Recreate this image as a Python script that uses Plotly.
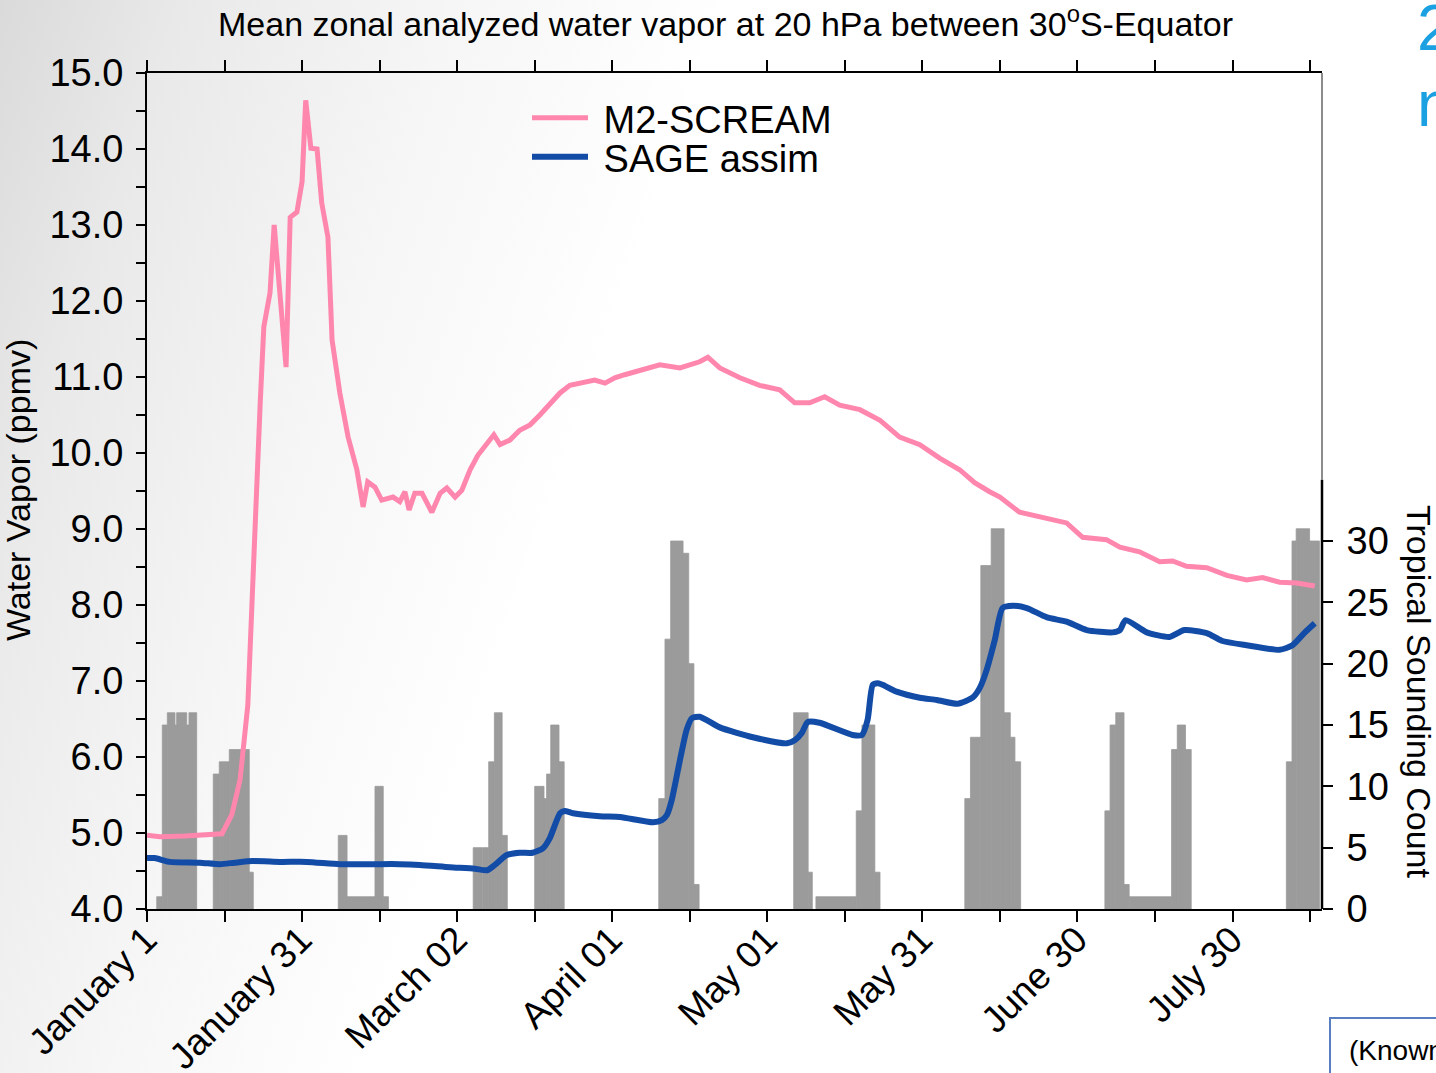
import base64
import plotly.graph_objects as go

# ---------------- data ----------------
# days since 2022-01-01
pink_day = [0, 2.5, 7.3, 11.2, 14.5, 16.4, 18.0, 19.5, 20.9, 21.9, 22.6, 23.8, 24.6, 26.9, 27.7, 29.0,
            30.0, 30.7, 31.7, 32.9, 33.8, 35.0, 35.8, 37.3, 38.9, 40.6, 41.8, 42.7, 44.1, 45.4, 47.6,
            48.9, 49.9, 50.7, 51.8, 53.2, 55.1, 56.7, 58.0, 59.6, 60.9, 62.5, 64.0, 65.6, 67.1, 68.3,
            70.2, 72.1, 74.1, 76.0, 77.9, 79.9, 81.8, 83.7, 86.6, 88.6, 90.5, 92.4, 95.3, 99.2, 103.1,
            106.9, 108.5, 110.8, 114.7, 118.5, 122.4, 125.3, 128.2, 131.1, 134.0, 137.9, 141.8, 145.6,
            149.5, 153.4, 157.2, 160.1, 163.0, 165.0, 168.8, 171.3, 174.6, 177.9, 181.0, 185.6, 188.2,
            192.0, 195.9, 198.4, 201.1, 205.0, 208.9, 212.7, 215.8, 219.1, 222.4, 225.9]
pink_ppmv = [4.97, 4.95, 4.96, 4.97, 4.99, 5.24, 5.70, 6.68, 9.12, 10.66, 11.66, 12.11, 13.0, 11.13, 13.1, 13.17,
             13.57, 14.64, 14.01, 14.0, 13.29, 12.84, 11.49, 10.79, 10.21, 9.78, 9.29, 9.62, 9.55, 9.38, 9.42,
             9.36, 9.49, 9.25, 9.47, 9.47, 9.22, 9.47, 9.54, 9.42, 9.51, 9.78, 9.97, 10.11, 10.24, 10.11,
             10.17, 10.30, 10.37, 10.50, 10.63, 10.79, 10.89, 10.92, 10.96, 10.92, 10.99, 11.03, 11.09, 11.16, 11.12,
             11.20, 11.26, 11.12, 10.99, 10.89, 10.83, 10.66, 10.66, 10.74, 10.63, 10.57, 10.43, 10.21,
             10.11, 9.93, 9.78, 9.61, 9.49, 9.42, 9.22, 9.18, 9.13, 9.08, 8.89, 8.86, 8.76,
             8.70, 8.57, 8.58, 8.51, 8.49, 8.39, 8.33, 8.36, 8.30, 8.29, 8.25]

blue_day = [0, 1.5, 4.4, 10.2, 14.1, 17.0, 20.5, 25.7, 30.9, 37.3, 43.7, 48.9, 52.8, 58.6, 63.4, 65.8,
            67.3, 69.6, 72.1, 74.6, 76.6, 77.9, 79.9, 80.8, 82.4, 87.6, 91.5, 97.9, 99.6, 100.6, 101.5,
            103.1, 104.4, 105.4, 106.9, 110.8, 117.2, 123.8, 125.3, 126.7, 127.8, 130.1, 136.5, 138.3,
            139.4, 140.4, 141.4, 142.3, 145.0, 149.5, 152.8, 156.8, 159.7, 161.1, 162.4, 164.0, 165.5,
            167.5, 170.2, 174.0, 177.9, 181.8, 186.8, 188.2, 189.3, 193.4, 197.8, 200.7, 205.0, 207.9,
            212.7, 219.1, 221.6, 224.0, 225.9]
blue_ppmv = [4.67, 4.67, 4.62, 4.61, 4.59, 4.61, 4.63, 4.62, 4.62, 4.59, 4.59, 4.59, 4.58, 4.55, 4.53, 4.51,
             4.58, 4.71, 4.74, 4.74, 4.80, 4.93, 5.26, 5.29, 5.26, 5.22, 5.21, 5.14, 5.17, 5.24, 5.43,
             5.96, 6.36, 6.51, 6.53, 6.39, 6.26, 6.18, 6.22, 6.32, 6.46, 6.45, 6.29, 6.29,
             6.49, 6.95, 6.97, 6.95, 6.86, 6.78, 6.75, 6.70, 6.78, 6.91, 7.14, 7.54, 7.96,
             7.99, 7.96, 7.84, 7.78, 7.67, 7.64, 7.67, 7.80, 7.64, 7.58, 7.67, 7.63, 7.53,
             7.47, 7.41, 7.47, 7.64, 7.76]

# sounding-count histogram bins (start day, end day, count)
bin_start = [1.88, 2.96, 3.93, 5.41, 5.74, 7.68, 8.12,
             12.82, 13.98, 15.92, 19.78,
             37.0, 38.7, 44.1, 45.7,
             63.1, 64.9, 66.1, 67.2, 68.7,
             75.0, 76.8, 77.3, 78.1, 79.7,
             99.0, 100.2, 101.3, 103.7, 104.8, 105.8,
             125.1, 127.9, 129.4, 137.2, 138.3, 140.8,
             158.2, 159.3, 161.3, 163.3, 165.8, 167.0, 167.9,
             185.3, 186.3, 187.4, 189.0, 190.0, 198.2, 199.3, 200.9,
             220.4, 221.5, 222.3, 224.9]
bin_end = [2.96, 3.93, 5.41, 5.74, 7.68, 8.12, 9.61,
           13.98, 15.92, 19.78, 20.56,
           38.7, 44.1, 45.7, 46.7,
           64.8, 66.1, 67.2, 68.7, 69.7,
           76.8, 77.3, 78.1, 79.7, 80.7,
           100.2, 101.3, 103.7, 104.8, 105.8, 106.8,
           127.9, 128.7, 137.2, 138.3, 140.8, 141.8,
           159.3, 161.3, 163.3, 165.8, 167.0, 167.9, 169.0,
           186.3, 187.4, 189.0, 190.0, 198.2, 199.3, 200.9, 202.0,
           221.5, 222.3, 224.9, 226.8]
bin_count = [1, 15, 16, 15, 16, 15, 16,
             11, 12, 13, 3,
             6, 1, 10, 1,
             5, 5, 12, 16, 6,
             10, 9, 11, 15, 12,
             9, 22, 30, 29, 20, 2,
             16, 3, 1, 8, 15, 3,
             9, 14, 28, 31, 16, 14, 12,
             8, 15, 16, 2, 1, 13, 15, 13,
             12, 30, 31, 30]

x_tick_days = [0, 15, 30, 45, 60, 75, 90, 105, 120, 135, 150, 165, 180, 195, 210, 225]
x_tick_labels = ["January 1", "", "January 31", "", "March 02", "", "April 01", "", "May 01", "",
                 "May 31", "", "June 30", "", "July 30", ""]
wv_ticks = [4, 5, 6, 7, 8, 9, 10, 11, 12, 13, 14, 15]
count_ticks = [0, 5, 10, 15, 20, 25, 30]

# ---------------- geometry ----------------
W, H = 1436, 1073
L, R, T, B = 147, 1322, 73, 909
PW, PH = R - L, B - T
X_MAX = 227.3
COUNT_TOP = PH / 12.267   # counts axis spans the full plot height
FONT = "Liberation Sans, Arial, Helvetica, sans-serif"


def px(xp):
    return (xp - L) / PW


def py(yp):
    return (B - yp) / PH


bar_x = [(s + e) / 2 for s, e in zip(bin_start, bin_end)]
bar_w = [e - s for s, e in zip(bin_start, bin_end)]

fig = go.Figure()
fig.add_trace(go.Bar(x=bar_x, y=bin_count, width=bar_w,
                     marker=dict(color="#9b9b9b", line=dict(width=0.8, color="#9b9b9b")),
                     xaxis="x", yaxis="y", showlegend=False, hoverinfo="skip"))
fig.add_trace(go.Scatter(x=pink_day, y=pink_ppmv, mode="lines", name="\u00a0M2-SCREAM",
                         line=dict(color="#ff86ad", width=5), xaxis="x", yaxis="y2", legend="legend"))
fig.add_trace(go.Scatter(x=blue_day, y=blue_ppmv, mode="lines", name="\u00a0SAGE assim",
                         line=dict(color="#124ca6", width=6, shape="spline", smoothing=0.6),
                         xaxis="x", yaxis="y2", legend="legend2"))

# background gradient (slide)
svg = ('<svg xmlns="http://www.w3.org/2000/svg" width="1436" height="1073">'
       '<defs><linearGradient id="g" x1="0" y1="0" x2="1" y2="0.25">'
       '<stop offset="0" stop-color="#dadada"/><stop offset="0.12" stop-color="#e9e9e9"/>'
       '<stop offset="0.3" stop-color="#f6f6f6"/><stop offset="0.48" stop-color="#ffffff"/>'
       '</linearGradient></defs><rect width="1436" height="1073" fill="url(#g)"/></svg>')
bg_src = "data:image/svg+xml;base64," + base64.b64encode(svg.encode()).decode()

tickfont = dict(family=FONT, size=38, color="black")
xtickfont = dict(family=FONT, size=37, color="black")
legfont = dict(family=FONT, size=38, color="black")

fig.update_layout(
    width=W, height=H,
    margin=dict(l=L, r=W - R, t=T, b=H - B, pad=0, autoexpand=False),
    paper_bgcolor="white",
    plot_bgcolor="rgba(0,0,0,0)",
    font=dict(family=FONT, color="black"),
    images=[dict(source=bg_src, xref="paper", yref="paper", x=px(0), y=py(0),
                 sizex=W / PW, sizey=H / PH, xanchor="left", yanchor="top",
                 sizing="stretch", layer="below")],
    xaxis=dict(range=[0, X_MAX], tickmode="array", tickvals=x_tick_days, ticktext=x_tick_labels,
               ticks="outside", ticklen=11, tickwidth=2, tickcolor="black", automargin=False,
               ticklabelstandoff=-19, ticklabelshift=-1,
               showline=True, linecolor="black", linewidth=2, mirror="allticks",
               tickangle=-45, tickfont=xtickfont, showgrid=False, zeroline=False),
    yaxis=dict(side="right", range=[0, COUNT_TOP], tickmode="array", tickvals=count_ticks,
               ticks="outside", ticklen=10, tickwidth=2, tickcolor="black", ticklabelstandoff=6,
               showline=False, showgrid=False, zeroline=False, tickfont=tickfont, automargin=False),
    yaxis2=dict(overlaying="y", side="left", range=[4, 15], tickmode="array", tickvals=wv_ticks,
                ticktext=["%.1f" % v for v in wv_ticks], automargin=False,
                ticks="outside", ticklen=9, tickwidth=2, tickcolor="black", ticklabelstandoff=5,
                minor=dict(dtick=0.5, tick0=4, ticks="outside", ticklen=9, tickwidth=2, tickcolor="black"),
                showline=True, linecolor="black", linewidth=2,
                showgrid=False, zeroline=False, tickfont=tickfont),
    legend=dict(x=px(527), y=py(118), xanchor="left", yanchor="middle", bgcolor="rgba(0,0,0,0)",
                font=legfont, itemwidth=56),
    legend2=dict(x=px(527), y=py(157), xanchor="left", yanchor="middle", bgcolor="rgba(0,0,0,0)",
                 font=legfont, itemwidth=56),
    shapes=[
        dict(type="line", xref="paper", yref="y", x0=1, x1=1, y0=0, y1=35,
             line=dict(color="black", width=2.5)),
        dict(type="line", xref="paper", yref="y", x0=1, x1=1, y0=35, y1=COUNT_TOP,
             line=dict(color="#666666", width=1.5)),
        dict(type="rect", xref="paper", yref="paper", x0=px(1330), x1=px(1460), y0=py(1090), y1=py(1018),
             line=dict(color="#5a7fc0", width=2), fillcolor="white"),
    ],
    annotations=[
        dict(text="Mean zonal analyzed water vapor at 20 hPa between 30<sup>o</sup>S-Equator",
             xref="paper", yref="paper", x=px(725), y=py(21), showarrow=False,
             xanchor="center", yanchor="middle", font=dict(family=FONT, size=34, color="black")),
        dict(text="Water Vapor (ppmv)", xref="paper", yref="paper", x=px(18), y=py(490),
             showarrow=False, textangle=-90, xanchor="center", yanchor="middle",
             font=dict(family=FONT, size=34, color="black")),
        dict(text="Tropical Sounding Count", xref="paper", yref="paper", x=px(1419), y=py(692),
             showarrow=False, textangle=90, xanchor="center", yanchor="middle",
             font=dict(family=FONT, size=34, color="black")),
        dict(text="2", xref="paper", yref="paper", x=px(1415), y=py(28), showarrow=False,
             xanchor="left", yanchor="middle", font=dict(family=FONT, size=64, color="#1ba1e2")),
        dict(text="n", xref="paper", yref="paper", x=px(1415), y=py(104), showarrow=False,
             xanchor="left", yanchor="middle", font=dict(family=FONT, size=64, color="#1ba1e2")),
        dict(text="(Known", xref="paper", yref="paper", x=px(1347), y=py(1050), showarrow=False,
             xanchor="left", yanchor="middle", font=dict(family=FONT, size=28, color="black")),
    ],
)

fig.write_html("out.html", config={"displayModeBar": False},
               post_script="document.body.style.margin='0';")
